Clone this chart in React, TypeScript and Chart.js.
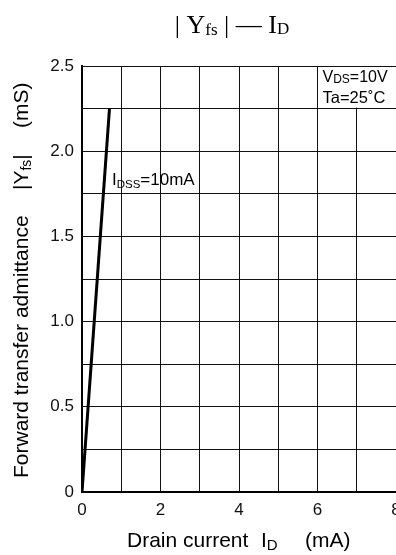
import React, { useEffect, useRef } from "react";
import { Chart, registerables } from "chart.js";

Chart.register(...registerables);

// Data
const drainCurrent = [0, 0.7]; // mA
const admittance = [0, 2.25]; // mS
const xTickValues = [0, 2, 4, 6, 8];
const yTickLabels = ["0", "0.5", "1.0", "1.5", "2.0", "2.5"];

const SANS = "'Liberation Sans', Arial, sans-serif";
const SERIF = "'Liberation Serif', 'Times New Roman', serif";

type Run = { t: string; size: number; dy?: number; family?: string };

function drawRuns(ctx: CanvasRenderingContext2D, runs: Run[], x: number, y: number) {
  let cx = x;
  for (const r of runs) {
    ctx.font = `${r.size}px ${r.family || SANS}`;
    ctx.fillText(r.t, cx, y + (r.dy || 0));
    cx += ctx.measureText(r.t).width;
  }
  return cx;
}

const textPlugin = {
  id: "textPlugin",
  beforeDatasetsDraw(chart: any) {
    const ctx = chart.ctx as CanvasRenderingContext2D;
    const xs = chart.scales.x;
    const ys = chart.scales.y;
    // white annotation box
    ctx.save();
    ctx.fillStyle = "#fff";
    const x0 = xs.getPixelForValue(6) + 1;
    const y0 = ys.getPixelForValue(2.5) + 1;
    const y1 = ys.getPixelForValue(2.25) - 1;
    ctx.fillRect(x0, y0, chart.width - x0, y1 - y0);
    ctx.restore();
  },
  afterDraw(chart: any) {
    const ctx = chart.ctx as CanvasRenderingContext2D;
    ctx.save();
    ctx.fillStyle = "#000";
    ctx.textBaseline = "alphabetic";
    ctx.textAlign = "left";

    // Title
    const titleRuns: Run[] = [
      { t: "| Y", size: 26, family: SERIF },
      { t: "fs", size: 17, dy: 2, family: SERIF },
      { t: " | — I", size: 26, family: SERIF },
      { t: "D", size: 17, dy: 1, family: SERIF },
    ];
    let w = 0;
    for (const r of titleRuns) {
      ctx.font = `${r.size}px ${r.family}`;
      w += ctx.measureText(r.t).width;
    }
    drawRuns(ctx, titleRuns, 232 - w / 2, 33);

    // X axis title
    drawRuns(ctx, [{ t: "Drain current", size: 21 }], 127, 547);
    drawRuns(ctx, [{ t: "I", size: 21 }, { t: "D", size: 15, dy: 3 }], 261, 547);
    drawRuns(ctx, [{ t: "(mA)", size: 21 }], 305, 547);

    // Y axis title (rotated)
    ctx.save();
    ctx.translate(27.5, 478);
    ctx.rotate(-Math.PI / 2);
    drawRuns(ctx, [{ t: "Forward transfer admittance", size: 21 }], 0, 0);
    drawRuns(ctx, [{ t: "|Y", size: 21 }, { t: "fs", size: 14, dy: 3 }, { t: "|", size: 21 }], 288, 0);
    drawRuns(ctx, [{ t: "(mS)", size: 21 }], 350, 0);
    ctx.restore();

    // I_DSS label
    drawRuns(ctx, [{ t: "I", size: 17 }, { t: "DSS", size: 11.5, dy: 3 }, { t: "=10mA", size: 17 }], 112, 185);

    // Conditions
    drawRuns(ctx, [{ t: "V", size: 16 }, { t: "DS", size: 12, dy: 1 }, { t: "=10V", size: 16 }], 322.5, 82);
    drawRuns(ctx, [{ t: "Ta=25˚C", size: 16.5 }], 322.5, 103);

    ctx.restore();
  },
};

export default function App() {
  const ref = useRef<HTMLCanvasElement | null>(null);
  useEffect(() => {
    if (!ref.current) return;
    const chart = new Chart(ref.current, {
      type: "scatter",
      data: {
        datasets: [
          {
            data: drainCurrent.map((x, i) => ({ x, y: admittance[i] })),
            showLine: true,
            borderColor: "#000",
            borderWidth: 3,
            pointRadius: 0,
            fill: false,
          },
        ],
      },
      options: {
        responsive: false,
        animation: false,
        events: [],
        layout: { padding: { top: 66, left: 0, right: 0, bottom: 0 } },
        plugins: { legend: { display: false }, tooltip: { enabled: false }, title: { display: false } },
        scales: {
          x: {
            type: "linear",
            min: 0,
            max: 8,
            afterBuildTicks: (s: any) => {
              s.ticks = [0, 1, 2, 3, 4, 5, 6, 7, 8].map((v) => ({ value: v }));
            },
            afterFit: (s: any) => {
              s.height = 63;
              s.paddingLeft = 0;
              s.paddingRight = 0;
            },
            ticks: {
              autoSkip: false,
              maxRotation: 0,
              padding: 8,
              color: "#111",
              font: { family: SANS, size: 17 },
              callback: (v: any) => (xTickValues.includes(Number(v)) ? String(v) : ""),
            },
            grid: { color: "#111", lineWidth: 1, drawTicks: false },
            border: { display: true, color: "#000", width: 2 },
          },
          y: {
            type: "linear",
            min: 0,
            max: 2.5,
            afterBuildTicks: (s: any) => {
              const t = [];
              for (let i = 0; i <= 10; i++) t.push({ value: i * 0.25 });
              s.ticks = t;
            },
            afterFit: (s: any) => {
              s.width = 82;
              s.paddingTop = 0;
              s.paddingBottom = 0;
            },
            ticks: {
              autoSkip: false,
              padding: 8,
              color: "#111",
              font: { family: SANS, size: 17 },
              callback: (v: any) => {
                const n = Number(v);
                const k = Math.round(n * 2);
                if (Math.abs(n * 2 - k) < 1e-6) return yTickLabels[k];
                return "";
              },
            },
            grid: { color: "#111", lineWidth: 1, drawTicks: false },
            border: { display: true, color: "#000", width: 2 },
          },
        },
      },
      plugins: [textPlugin],
    } as any);
    return () => chart.destroy();
  }, []);
  return (
    <div style={{ position: "absolute", left: 0, top: 0, width: 396, height: 555, background: "#fff" }}>
      <canvas ref={ref} width={396} height={555} style={{ display: "block" }} />
    </div>
  );
}
